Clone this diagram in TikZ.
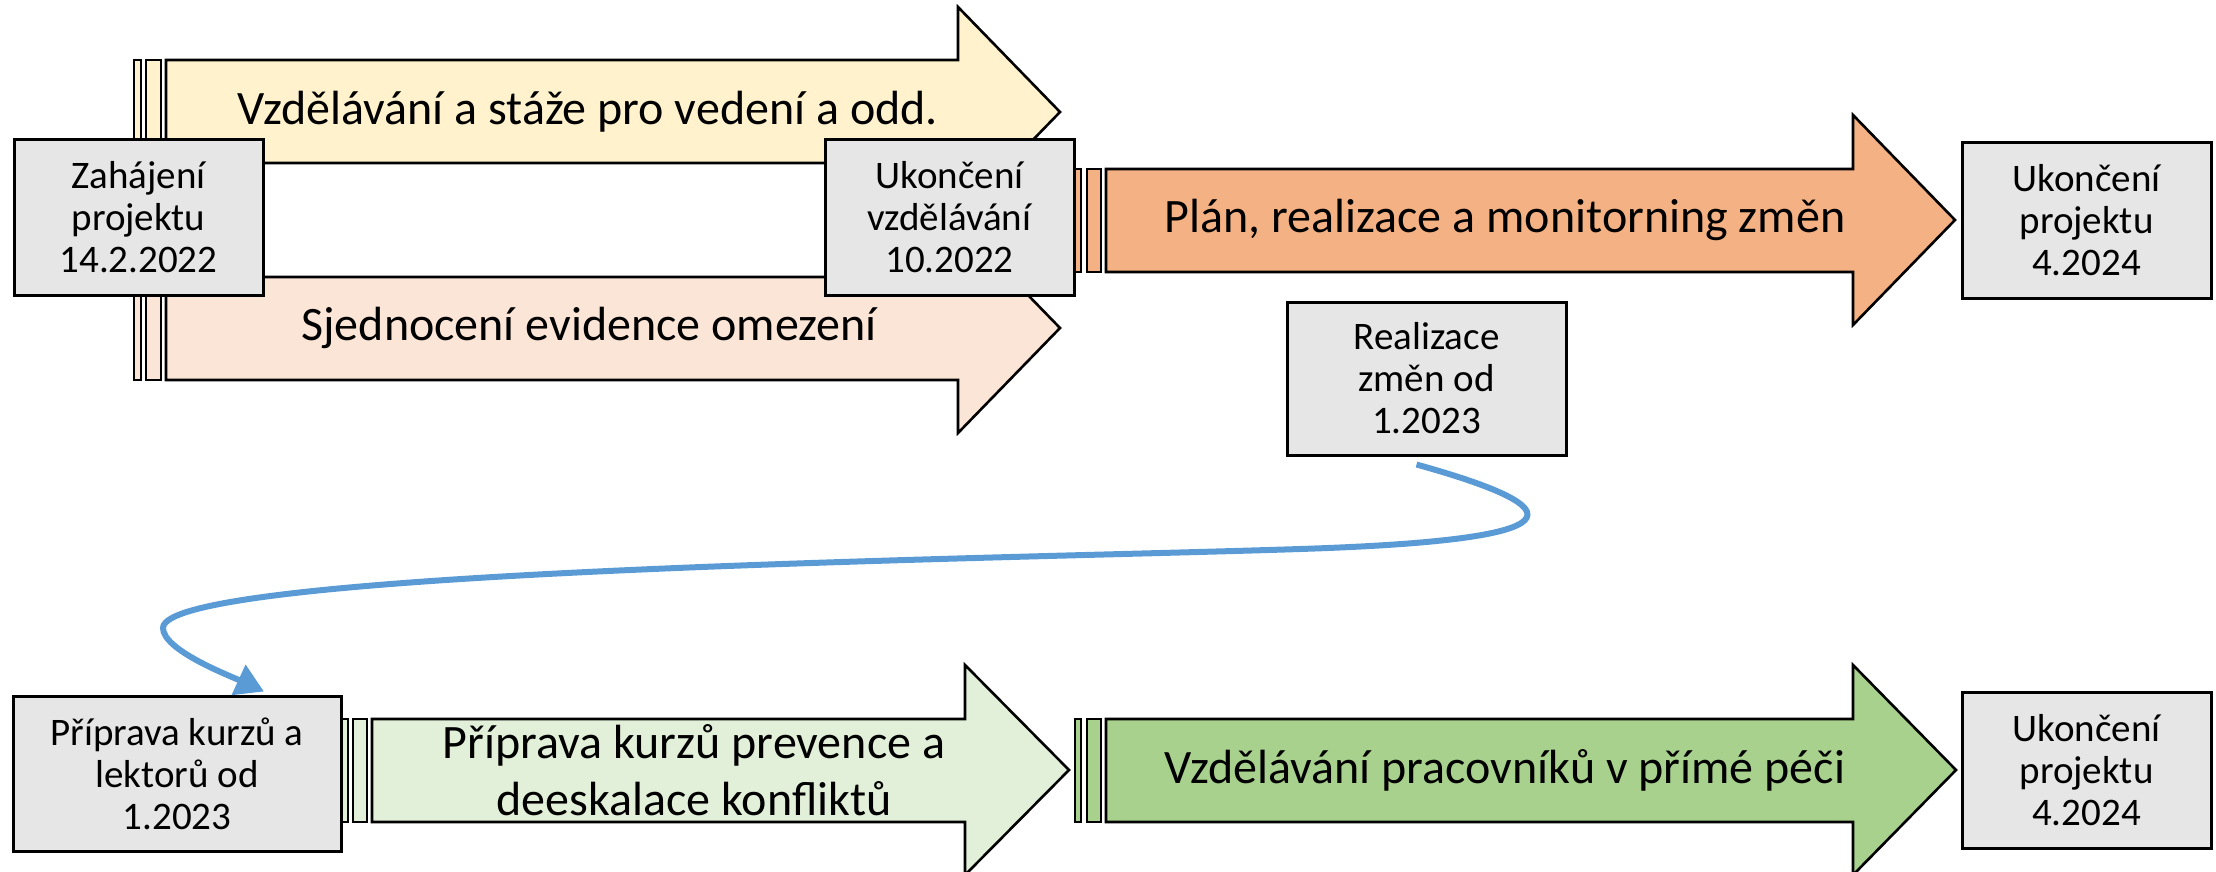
\documentclass[tikz,border=0pt]{standalone}
\usepackage{fontspec}
\setmainfont{Carlito}
\usetikzlibrary{arrows.meta}

\definecolor{boxgrey}{HTML}{E6E6E6}
\definecolor{leadfill}{HTML}{FFF2CC}
\definecolor{evidfill}{HTML}{FBE5D6}
\definecolor{planfill}{HTML}{F4B183}
\definecolor{prepfill}{HTML}{E2F0D9}
\definecolor{stafffill}{HTML}{A9D18E}
\definecolor{flowblue}{HTML}{5B9BD5}

\begin{document}
\begin{tikzpicture}[
    x=0.5pt, y=-0.5pt,
    band/.style={
        draw=black,
        line width=1.3pt,
        line join=miter
    },
    milestone/.style={
        rectangle,
        draw=black,
        line width=1.5pt,
        fill=boxgrey,
        align=center,
        inner sep=0pt,
        minimum width=124.5pt,
        minimum height=77.5pt,
        font=\fontsize{19.5}{21}\selectfont
    },
    phase/.style={align=center, inner sep=0pt, font=\fontsize{24}{28.5}\selectfont},
    flow/.style={draw=flowblue, line width=3pt, -{Triangle[length=14pt, width=16pt]}}
]
\useasboundingbox (0,0) rectangle (2216,872);

% top row: two parallel phases
\draw[band, fill=leadfill] (134,60) rectangle (141,163) (146,60) rectangle (161,163);
\draw[band, fill=leadfill] (166,60) -- (958,60) -- (958,7) -- (1060,112) -- (958,217) -- (958,163) -- (166,163) -- cycle;
\draw[band, fill=evidfill] (134,277) rectangle (141,380) (146,277) rectangle (161,380);
\draw[band, fill=evidfill] (166,277) -- (958,277) -- (958,223) -- (1060,328) -- (958,433) -- (958,380) -- (166,380) -- cycle;
\node[phase] (leadtxt) at (588,112) {Vzdělávání a stáže pro vedení a odd.};
\node[phase] (evidtxt) at (589,328) {Sjednocení evidence omezení};

\draw[band, fill=planfill] (1075,169) rectangle (1081,272) (1087,169) rectangle (1101,272);
\draw[band, fill=planfill] (1106,169) -- (1853,169) -- (1853,115) -- (1955,220) -- (1853,325) -- (1853,272) -- (1106,272) -- cycle;
\node[phase] (plantxt) at (1505,220) {Plán, realizace a monitorning změn};

\node[milestone] (start) at (138.5,217.5) {Zahájení\\projektu\\14.2.2022};
\node[milestone] (eduend) at (949.5,217.5) {Ukončení\\vzdělávání\\10.2022};
\node[milestone] (projend) at (2086.5,220.5) {Ukončení\\projektu\\4.2024};
\node[milestone, minimum width=139.5pt, minimum height=76.5pt] (real) at (1426.5,378.5) {Realizace\\změn od\\1.2023};

% bottom row
\draw[band, fill=prepfill] (342,719) rectangle (348,822) (353,719) rectangle (367,822);
\draw[band, fill=prepfill] (372,719) -- (965,719) -- (965,665) -- (1069,770) -- (965,875) -- (965,822) -- (372,822) -- cycle;
\node[phase] (preptxt) at (694,770) {Příprava kurzů prevence a\\deeskalace konfliktů};

\draw[band, fill=stafffill] (1075,719) rectangle (1081,822) (1087,719) rectangle (1101,822);
\draw[band, fill=stafffill] (1106,719) -- (1853,719) -- (1853,665) -- (1956,770) -- (1853,875) -- (1853,822) -- (1106,822) -- cycle;
\node[phase] (stafftxt) at (1505,770) {Vzdělávání pracovníků v přímé péči};

\node[milestone, minimum width=164pt] (prep) at (177,773.5) {Příprava kurzů a\\lektorů od\\1.2023};
\node[milestone, minimum height=78pt] (projend2) at (2086.5,770) {Ukončení\\projektu\\4.2024};

\draw[flow] ([xshift=-5pt,yshift=-4pt]real.south) .. controls (1580,510) and (1580,540) .. (1300,549)
    .. controls (1000,559) and (163,570) .. (163,628)
    .. controls (163,650) and (228,675) .. ([xshift=43.5pt,yshift=1.5pt]prep.north);

\end{tikzpicture}
\end{document}
